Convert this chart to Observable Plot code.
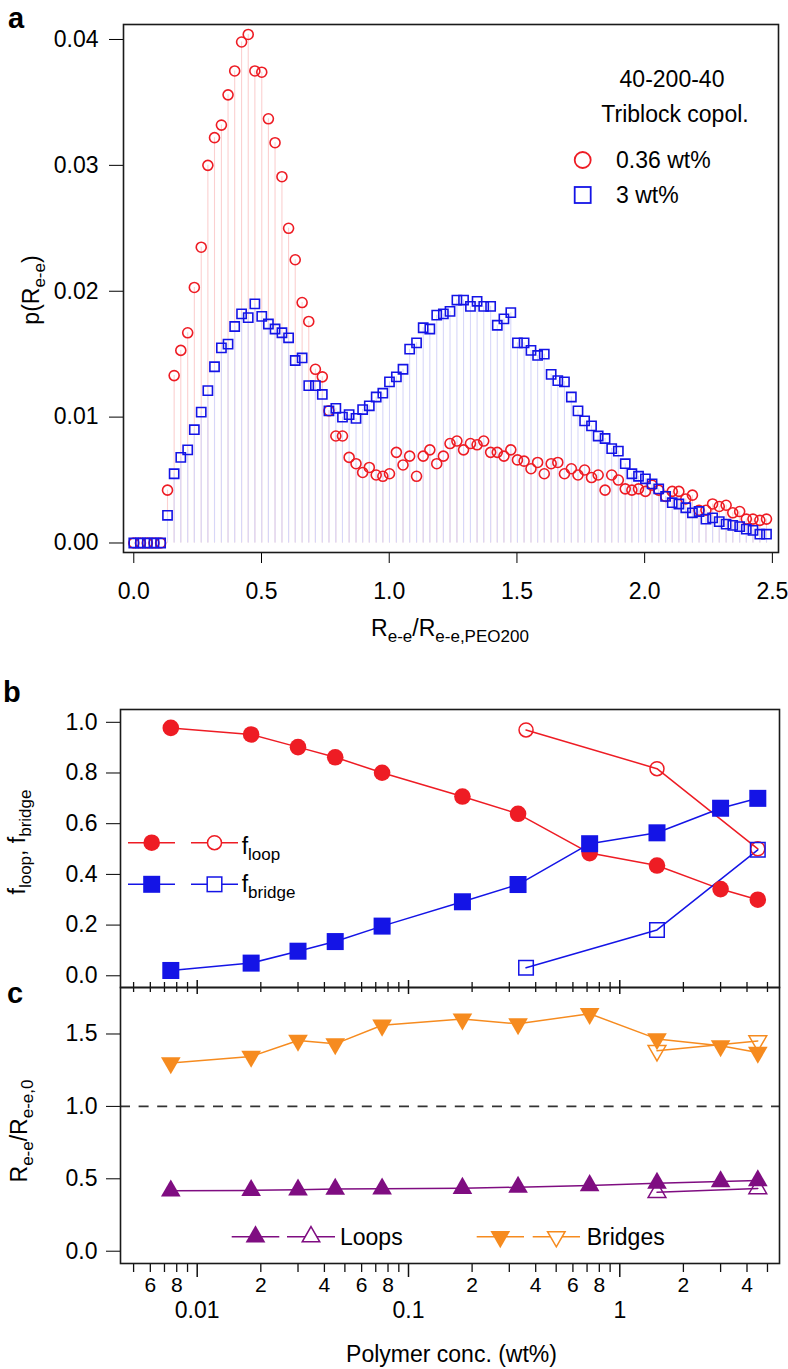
<!DOCTYPE html>
<html><head><meta charset="utf-8">
<script src="https://cdn.jsdelivr.net/npm/d3@7"></script>
<script src="https://cdn.jsdelivr.net/npm/@observablehq/plot@0.6"></script>
<style>
body{margin:0;background:#fff;}
#wrap{position:relative;width:788px;height:1369px;font-family:"Liberation Sans",Arial,Helvetica,sans-serif;overflow:hidden;}
#wrap > svg{position:absolute;left:0;}
</style></head><body><div id="wrap"></div>
<script>
// ---------- Panel a data ----------
const binR = [0,0.026,0.053,0.079,0.105,0.132,0.158,0.184,0.211,0.237,
 0.264,0.290,0.316,0.343,0.369,0.395,0.422,0.448,0.474,0.501,
 0.527,0.553,0.580,0.606,0.632,0.659,0.685,0.711,0.738,0.764,
 0.791,0.817,0.843,0.870,0.896,0.922,0.949,0.975,1.001,1.028,
 1.054,1.080,1.107,1.133,1.159,1.186,1.212,1.238,1.265,1.291,
 1.318,1.344,1.370,1.397,1.423,1.449,1.476,1.502,1.528,1.555,
 1.581,1.607,1.634,1.660,1.686,1.713,1.739,1.765,1.792,1.818,
 1.845,1.871,1.897,1.924,1.950,1.976,2.003,2.029,2.055,2.082,
 2.108,2.134,2.161,2.187,2.213,2.240,2.266,2.292,2.319,2.345,
 2.372,2.398,2.424,2.451,2.477];
const p036 = [0,0,0,0,0,0.0042,0.0133,0.0153,0.0167,0.0203,
 0.0235,0.0300,0.0322,0.0332,0.0356,0.0375,0.0398,0.0404,0.0375,0.0374,
 0.0337,0.0318,0.0291,0.0250,0.0225,0.0191,0.0176,0.0138,0.0132,0.0105,
 0.0085,0.0085,0.0068,0.0063,0.0056,0.0060,0.0054,0.0053,0.0055,0.0072,
 0.0062,0.0069,0.0053,0.0069,0.0074,0.0063,0.0069,0.0079,0.0081,0.0074,
 0.0079,0.0078,0.0081,0.0072,0.0072,0.0069,0.0074,0.0066,0.0065,0.0059,
 0.0064,0.0055,0.0063,0.0064,0.0055,0.0059,0.0054,0.0058,0.0052,0.0054,
 0.0042,0.0054,0.0050,0.0043,0.0042,0.0043,0.0041,0.0046,0.0042,0.0037,
 0.0041,0.0041,0.0035,0.0038,0.0026,0.0026,0.0031,0.0029,0.0030,0.0024,
 0.0025,0.0019,0.0019,0.0018,0.0019];
const p3 = [0,0,0,0,0,0.0022,0.0055,0.0068,0.0074,0.0090,
 0.0104,0.0121,0.0140,0.0155,0.0158,0.0172,0.0182,0.0179,0.0190,0.0180,
 0.0174,0.0170,0.0167,0.0163,0.0145,0.0147,0.0125,0.0125,0.0118,0.0105,
 0.0107,0.0100,0.0102,0.0099,0.0106,0.0109,0.0116,0.0119,0.0128,0.0132,
 0.0138,0.0154,0.0159,0.0171,0.0170,0.0181,0.0182,0.0184,0.0193,0.0193,
 0.0188,0.0192,0.0188,0.0188,0.0173,0.0178,0.0183,0.0159,0.0159,0.0153,
 0.0149,0.0150,0.0134,0.0129,0.0128,0.0116,0.0105,0.0097,0.0093,0.0085,
 0.0083,0.0075,0.0073,0.0063,0.0055,0.0053,0.0051,0.0047,0.0043,0.0037,
 0.0032,0.0031,0.0028,0.0024,0.0025,0.0019,0.0020,0.0017,0.0015,0.0014,
 0.0013,0.0011,0.0010,0.0007,0.0007];
const aXTicks = [0,0.5,1,1.5,2,2.5];
const aYTicks = [0,0.01,0.02,0.03,0.04];

// ---------- Panel b / c data ----------
const conc = [0.0075,0.018,0.03,0.045,0.075,0.18,0.33,0.72,1.5,3,4.5];
const fLoop = [0.978,0.952,0.902,0.862,0.801,0.707,0.639,0.484,0.435,0.342,0.300];
const fBridge = [0.021,0.050,0.097,0.135,0.196,0.292,0.360,0.521,0.564,0.661,0.700];
const concOpen = [0.36,1.5,4.5];
const fLoopOpen = [0.970,0.817,0.501];
const fBridgeOpen = [0.032,0.181,0.497];
const bYTicks = [0,0.2,0.4,0.6,0.8,1.0];

const rLoops = [0.417,0.420,0.424,0.429,0.431,0.435,0.442,0.454,0.470,0.481,0.488];
const rBridges = [1.300,1.345,1.455,1.432,1.560,1.603,1.570,1.640,1.466,1.418,1.372];
const concOpenC = [1.5,4.5];
const rLoopsOpen = [0.407,0.433];
const rBridgesOpen = [1.385,1.452];
const cYTicks = [0,0.5,1.0,1.5];

const majorTicks = [0.01,0.1,1];
const minorTicks = [0.005,0.006,0.007,0.008,0.009,0.02,0.03,0.04,0.05,0.06,0.07,0.08,0.09,
  0.2,0.3,0.4,0.5,0.6,0.7,0.8,0.9,2,3,4,5];
const majorLabelVals = [0.01,0.1,1];
const majorLabelText = ["0.01","0.1","1"];
const minorLabelVals = [0.006,0.008,0.02,0.04,0.06,0.08,0.2,0.4,0.6,0.8,2,4];
const minorLabelText = ["6","8","2","4","6","8","2","4","6","8","2","4"];

// ---------- colours ----------
const RED = "#ee1c24", BLUE = "#1414e6", ORANGE = "#f68b1f", PURPLE = "#7f0d81";
const FONT = "Liberation Sans, Arial, Helvetica, sans-serif";
const baseStyle = {fontFamily: FONT, fontSize: "23px", background: "transparent", color: "#000", overflow: "visible"};

// custom triangle symbols (up / down), centred on centroid
const triUp = {draw(ctx, size){const s=Math.sqrt(size*4/Math.sqrt(3)), h=s*Math.sqrt(3)/2;
  ctx.moveTo(0,-2*h/3); ctx.lineTo(s/2,h/3); ctx.lineTo(-s/2,h/3); ctx.closePath();}};
const triDown = {draw(ctx, size){const s=Math.sqrt(size*4/Math.sqrt(3)), h=s*Math.sqrt(3)/2;
  ctx.moveTo(0,2*h/3); ctx.lineTo(s/2,-h/3); ctx.lineTo(-s/2,-h/3); ctx.closePath();}};

const wrap = document.getElementById("wrap");
function place(el, top){ el.style.position="absolute"; el.style.top = top+"px"; el.style.left="0px"; wrap.appendChild(el); }

// ---------- Panel a ----------
const dataA = binR.map((x,i)=>({x, red:p036[i], blue:p3[i]}));
const plotA = Plot.plot({
  width:788, height:660, marginLeft:123, marginRight:10, marginTop:24, marginBottom:108,
  style: baseStyle,
  x:{domain:[-0.0403,2.524], ticks:aXTicks, tickFormat:d3.format(".1f"), tickSize:11, tickPadding:19, label:null},
  y:{domain:[-0.000755,0.04119], ticks:aYTicks, tickFormat:d3.format(".2f"), tickSize:14, tickPadding:11, label:null},
  marks:[
    Plot.ruleX(dataA,{x:"x", y1:0, y2:"red", stroke:"#fbd0d0", strokeWidth:1.1}),
    Plot.ruleX(dataA,{x:"x", y1:0, y2:"blue", stroke:"#d7d7f8", strokeWidth:1.1}),
    Plot.dot(dataA,{x:"x", y:"red", r:5, stroke:RED, strokeWidth:1.6, fill:"none"}),
    Plot.dot(dataA,{x:"x", y:"blue", r:5.2, symbol:"square", stroke:BLUE, strokeWidth:1.6, fill:"none"}),
    Plot.frame({stroke:"#1a1a1a", strokeWidth:1.6})
  ]
});
place(plotA, 0);

// ---------- Panel b ----------
const dB = conc.map((c,i)=>({c, loop:fLoop[i], bridge:fBridge[i]}));
const dBo = concOpen.map((c,i)=>({c, loop:fLoopOpen[i], bridge:fBridgeOpen[i]}));
const plotB = Plot.plot({
  width:788, height:340, marginLeft:120, marginRight:9, marginTop:59, marginBottom:3,
  style: baseStyle,
  x:{type:"log", domain:[0.004335,5.70], axis:null},
  y:{domain:[-0.0462,1.0505], ticks:bYTicks, tickFormat:d3.format(".1f"), tickSize:14, tickPadding:9, label:null},
  marks:[
    Plot.line(dB,{x:"c", y:"loop", stroke:RED, strokeWidth:1.5}),
    Plot.line(dBo,{x:"c", y:"loop", stroke:RED, strokeWidth:1.5}),
    Plot.line(dB,{x:"c", y:"bridge", stroke:BLUE, strokeWidth:1.5}),
    Plot.line(dBo,{x:"c", y:"bridge", stroke:BLUE, strokeWidth:1.5}),
    Plot.dot(dBo,{x:"c", y:"loop", r:7, stroke:RED, strokeWidth:1.5, fill:"none"}),
    Plot.dot(dBo,{x:"c", y:"bridge", r:8.2, symbol:"square", stroke:BLUE, strokeWidth:1.5, fill:"none"}),
    Plot.dot(dB,{x:"c", y:"loop", r:8.3, fill:RED, stroke:"none"}),
    Plot.dot(dB,{x:"c", y:"bridge", r:9.6, symbol:"square", fill:BLUE, stroke:"none"}),
    Plot.frame({stroke:"#1a1a1a", strokeWidth:1.6})
  ]
});
place(plotB, 650);

// ---------- Panel c ----------
const dC = conc.map((c,i)=>({c, loops:rLoops[i], bridges:rBridges[i]}));
const dCo = concOpenC.map((c,i)=>({c, loops:rLoopsOpen[i], bridges:rBridgesOpen[i]}));
const frameH = 392-10-106;
const plotC = Plot.plot({
  width:788, height:392, marginLeft:120, marginRight:9, marginTop:10, marginBottom:106,
  style: baseStyle,
  x:{type:"log", domain:[0.004335,5.70], axis:null},
  y:{domain:[-0.0849,1.821], ticks:cYTicks, tickFormat:d3.format(".1f"), tickSize:14, tickPadding:9, label:null},
  marks:[
    Plot.ruleY([1.0],{stroke:"#333", strokeWidth:1.6, strokeDasharray:"10,8.6"}),
    Plot.line(dC,{x:"c", y:"bridges", stroke:ORANGE, strokeWidth:1.5}),
    Plot.line(dCo,{x:"c", y:"bridges", stroke:ORANGE, strokeWidth:1.5}),
    Plot.line(dC,{x:"c", y:"loops", stroke:PURPLE, strokeWidth:1.5}),
    Plot.line(dCo,{x:"c", y:"loops", stroke:PURPLE, strokeWidth:1.5}),
    Plot.dot(dCo,{x:"c", y:"bridges", r:6.6, symbol:triDown, stroke:ORANGE, strokeWidth:1.5, fill:"none"}),
    Plot.dot(dCo,{x:"c", y:"loops", r:6.6, symbol:triUp, stroke:PURPLE, strokeWidth:1.5, fill:"none"}),
    Plot.dot(dC,{x:"c", y:"bridges", r:7.3, symbol:triDown, fill:ORANGE, stroke:"none"}),
    Plot.dot(dC,{x:"c", y:"loops", r:7.3, symbol:triUp, fill:PURPLE, stroke:"none"}),
    // bottom log axis ticks
    Plot.ruleX(majorTicks,{x:d=>d, insetTop:frameH, insetBottom:-14, stroke:"#111", strokeWidth:1.5}),
    Plot.ruleX(minorTicks,{x:d=>d, insetTop:frameH, insetBottom:-9, stroke:"#111", strokeWidth:1.3}),
    // ticks crossing the shared b/c axis line
    Plot.ruleX(majorTicks,{x:d=>d, insetTop:-7, insetBottom:frameH-7, stroke:"#111", strokeWidth:1.5}),
    Plot.ruleX(minorTicks,{x:d=>d, insetTop:-5, insetBottom:frameH-5, stroke:"#111", strokeWidth:1.3}),
    Plot.text(minorLabelVals,{x:d=>d, text:(d,i)=>minorLabelText[i], frameAnchor:"bottom", dy:28, fontSize:21}),
    Plot.text(majorLabelVals,{x:d=>d, text:(d,i)=>majorLabelText[i], frameAnchor:"bottom", dy:54, fontSize:23}),
    Plot.frame({stroke:"#1a1a1a", strokeWidth:1.6})
  ]
});
place(plotC, 977);

// ---------- overlay: panel letters, titles, legends ----------
const ov = d3.select(wrap).append("svg")
  .attr("width",788).attr("height",1369)
  .style("position","absolute").style("top","0px").style("left","0px")
  .style("pointer-events","none")
  .attr("font-family", FONT).attr("font-size", 23).attr("fill","#000");

function label(x,y,txt,opts={}){
  const t = ov.append("text").attr("x",x).attr("y",y).text(txt);
  for (const k in opts) t.attr(k, opts[k]);
  return t;
}
// panel letters
label(8,28,"a",{"font-weight":"bold","font-size":29});
label(3,702,"b",{"font-weight":"bold","font-size":29});
label(7,1003,"c",{"font-weight":"bold","font-size":29});

// rich text helper: parts = [[text, isSub], ...]
function rich(x, y, parts, rotate, anchor){
  const t = ov.append("text").attr("text-anchor", anchor || "middle");
  if (rotate) t.attr("transform", `translate(${x},${y}) rotate(-90)`);
  else t.attr("x", x).attr("y", y);
  let sub = false;
  for (const [s, isSub] of parts){
    const ts = t.append("tspan").text(s);
    if (isSub && !sub){ ts.attr("dy", 6).attr("font-size", 17); sub = true; }
    else if (isSub){ ts.attr("font-size", 17); }
    else if (!isSub && sub){ ts.attr("dy", -6); sub = false; }
  }
  return t;
}
// panel a titles
rich(39, 290, [["p(R",false],["e-e",true],[")",false]], true);
rich(450, 636, [["R",false],["e-e",true],["/R",false],["e-e,PEO200",true]], false);
// panel a legend
label(672, 86.5, "40-200-40", {"text-anchor":"middle"});
label(675, 121.5, "Triblock copol.", {"text-anchor":"middle"});
ov.append("circle").attr("cx",582.7).attr("cy",160).attr("r",8).attr("fill","none").attr("stroke",RED).attr("stroke-width",1.8);
label(616, 168.3, "0.36 wt%");
ov.append("rect").attr("x",574.7).attr("y",187).attr("width",16).attr("height",16).attr("fill","none").attr("stroke",BLUE).attr("stroke-width",1.8);
label(616, 203.3, "3 wt%");

// panel b titles and legend
rich(25, 842, [["f",false],["loop",true],[", f",false],["bridge",true]], true);
function seg(x1,x2,y,col){ ov.append("line").attr("x1",x1).attr("x2",x2).attr("y1",y).attr("y2",y).attr("stroke",col).attr("stroke-width",1.5); }
seg(128,175,842.7,RED); seg(191,238,842.7,RED);
ov.append("circle").attr("cx",151.7).attr("cy",842.7).attr("r",8.3).attr("fill",RED);
ov.append("circle").attr("cx",214.5).attr("cy",842.7).attr("r",7).attr("fill","white").attr("stroke",RED).attr("stroke-width",1.5);
rich(241.7, 853.5, [["f",false],["loop",true]], false, "start");
seg(128,175,884.3,BLUE); seg(191,238,884.3,BLUE);
ov.append("rect").attr("x",151.7-8.5).attr("y",884.3-8.5).attr("width",17).attr("height",17).attr("fill",BLUE);
ov.append("rect").attr("x",214.5-7.3).attr("y",884.3-7.3).attr("width",14.6).attr("height",14.6).attr("fill","white").attr("stroke",BLUE).attr("stroke-width",1.5);
rich(241.7, 892, [["f",false],["bridge",true]], false, "start");

// panel c titles and legend
rich(27, 1131, [["R",false],["e-e",true],["/R",false],["e-e,0",true]], true);
function triPath(cx, cy, s, up){
  const h = s*Math.sqrt(3)/2;
  return up ? `M${cx},${cy-2*h/3}L${cx+s/2},${cy+h/3}L${cx-s/2},${cy+h/3}Z`
            : `M${cx},${cy+2*h/3}L${cx+s/2},${cy-h/3}L${cx-s/2},${cy-h/3}Z`;
}
const ly = 1236.7;
seg(231.7,279.3,ly,PURPLE); seg(287,335,ly,PURPLE);
ov.append("path").attr("d",triPath(255.5,ly,19.8,true)).attr("fill",PURPLE);
ov.append("path").attr("d",triPath(311,ly,17.5,true)).attr("fill","white").attr("stroke",PURPLE).attr("stroke-width",1.5);
label(340, 1245, "Loops");
seg(476.7,524,ly,ORANGE); seg(532.7,580,ly,ORANGE);
ov.append("path").attr("d",triPath(500.3,ly,19.8,false)).attr("fill",ORANGE);
ov.append("path").attr("d",triPath(556.3,ly,17.5,false)).attr("fill","white").attr("stroke",ORANGE).attr("stroke-width",1.5);
label(586.7, 1245, "Bridges");
label(451.5, 1361.5, "Polymer conc. (wt%)", {"text-anchor":"middle"});
</script>
</body></html>
